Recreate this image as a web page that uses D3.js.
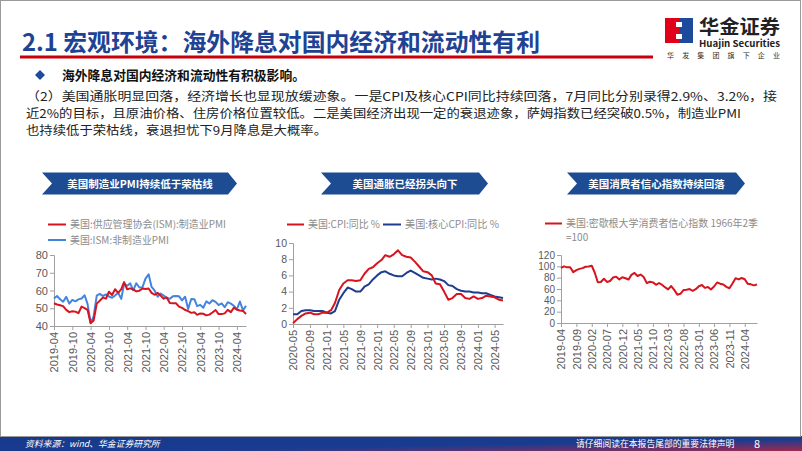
<!DOCTYPE html>
<html><head><meta charset="utf-8">
<script src="https://cdn.jsdelivr.net/npm/d3@7"></script>
<style>
body{margin:0;background:#fff}
svg{display:block}
text{font-family:"Noto Sans CJK SC","Noto Sans",sans-serif}
.ax text{font-family:"Liberation Sans",Arial,sans-serif;fill:#595959}
.ax path,.ax line{stroke:#a0a0a0}
</style>
</head><body>
<svg id="s" width="802" height="451"></svg>
<script>
// ---------------- DATA ----------------
const titleText = "2.1 宏观环境：海外降息对国内经济和流动性有利";
const bulletText = "海外降息对国内经济和流动性有积极影响。";
const paraLines = [
  "（2）美国通胀明显回落，经济增长也显现放缓迹象。一是CPI及核心CPI同比持续回落，7月同比分别录得2.9%、3.2%，接",
  "近2%的目标，且原油价格、住房价格位置较低。二是美国经济出现一定的衰退迹象，萨姆指数已经突破0.5%，制造业PMI",
  "也持续低于荣枯线，衰退担忧下9月降息是大概率。"
];
const bannerTitles = ["美国制造业PMI持续低于荣枯线","美国通胀已经拐头向下","美国消费者信心指数持续回落"];

// Chart 1: ISM PMI, monthly from 2019-04 to 2024-07
const pmiMonths = ["2019-04","2024-07"];
const ismMfg = [52.8,52.1,51.7,51.2,49.1,47.8,48.3,48.1,47.2,
  50.9,50.1,49.1,41.5,43.1,52.6,54.2,56.0,55.4,59.3,57.5,60.7,
  58.7,60.8,64.7,60.7,61.2,60.6,59.5,59.9,61.1,60.8,61.1,58.7,
  57.6,58.6,57.1,55.4,56.1,53.0,52.8,52.8,50.9,50.2,49.0,48.4,
  47.4,47.7,46.3,47.1,46.9,46.0,46.4,47.6,49.0,46.7,46.7,47.1,
  49.1,47.8,50.3,49.2,48.7,48.5,46.8];
const ismSvc = [55.5,56.9,55.1,53.7,56.4,52.6,54.7,53.9,55.0,
  55.5,57.3,52.5,41.8,45.4,57.1,58.1,56.9,57.8,56.6,55.9,57.2,
  58.7,55.3,63.7,62.7,64.0,60.1,64.1,61.7,61.9,66.7,69.1,62.0,
  59.9,56.5,58.3,57.1,55.9,55.3,56.7,56.9,56.7,54.4,56.5,49.6,
  55.2,55.1,51.2,51.9,50.3,53.9,52.7,54.5,53.6,51.8,52.7,50.6,
  53.4,52.6,51.4,49.4,53.8,48.8,51.4];
const pmiLegend = ["美国:供应管理协会(ISM):制造业PMI","美国:ISM:非制造业PMI"];
const pmiYTicks = [40,50,60,70,80];
const pmiXTicks = ["2019-04","2019-10","2020-04","2020-10","2021-04","2021-10","2022-04","2022-10","2023-04","2023-10","2024-04"];

// Chart 2: CPI YoY, monthly from 2020-05 to 2024-07
const cpiMonths = ["2020-05","2024-07"];
const cpiYoY = [0.1,0.6,1.0,1.3,1.4,1.2,1.2,1.4,
  1.4,1.7,2.6,4.2,5.0,5.4,5.4,5.3,5.4,6.2,6.8,7.0,
  7.5,7.9,8.5,8.3,8.6,9.1,8.5,8.3,8.2,7.7,7.1,6.5,
  6.4,6.0,5.0,4.9,4.0,3.0,3.2,3.7,3.7,3.2,3.1,3.4,
  3.1,3.2,3.5,3.4,3.3,3.0,2.9];
const coreCpiYoY = [1.2,1.2,1.6,1.7,1.7,1.6,1.6,1.6,
  1.4,1.3,1.6,3.0,3.8,4.5,4.3,4.0,4.0,4.6,4.9,5.5,
  6.0,6.4,6.5,6.2,6.0,5.9,5.9,6.3,6.6,6.3,6.0,5.7,
  5.6,5.5,5.6,5.5,5.3,4.8,4.7,4.3,4.1,4.0,4.0,3.9,
  3.9,3.8,3.8,3.6,3.4,3.3,3.2];
const cpiLegend = ["美国:CPI:同比 %","美国:核心CPI:同比 %"];
const cpiYTicks = [0,2,4,6,8,10];
const cpiXTicks = ["2020-05","2020-09","2021-01","2021-05","2021-09","2022-01","2022-05","2022-09","2023-01","2023-05","2023-09","2024-01","2024-05"];

// Chart 3: Michigan consumer sentiment, monthly from 2019-04 to 2024-08
const umMonths = ["2019-04","2024-08"];
const umcsi = [97.2,100.0,98.2,98.4,89.8,93.2,95.5,96.8,99.3,
  99.8,101.0,89.1,71.8,72.3,78.1,72.5,74.1,80.4,81.8,76.9,80.7,
  79.0,76.8,84.9,88.3,82.9,85.5,81.2,70.3,72.8,71.7,67.4,70.6,
  67.2,62.8,59.4,65.2,58.4,50.0,51.5,58.2,58.6,59.9,56.8,59.7,
  64.9,67.0,62.0,63.5,59.2,64.4,71.5,69.4,67.9,63.8,61.3,69.7,
  79.0,76.9,79.4,77.2,69.1,68.2,66.4,67.9];
const umLegend = ["美国:密歇根大学消费者信心指数 1966年2季","=100"];
const umYTicks = [0,20,40,60,80,100,120];
const umXTicks = ["2019-04","2019-09","2020-02","2020-07","2020-12","2021-05","2021-10","2022-03","2022-08","2023-01","2023-06","2023-11","2024-04"];

const footLeft = "资料来源：wind、华金证券研究所";
const footRight = "请仔细阅读在本报告尾部的重要法律声明";
const pageNo = "8";

// ---------------- DRAW ----------------
const svg = d3.select("#s");
const parse = d3.timeParse("%Y-%m");
const fmt = d3.timeFormat("%Y-%m");
const defs = svg.append("defs");

const RED = "#d7141e", NAVY = "#1e4394";
const MIXED = "Liberation Sans, Arial, Noto Sans CJK SC, sans-serif";

// title
svg.append("text").attr("x",22).attr("y",51).attr("font-size",24).attr("font-weight",700)
  .attr("fill",NAVY).attr("textLength",518).attr("lengthAdjust","spacingAndGlyphs").text(titleText);
svg.append("rect").attr("x",20).attr("y",55.5).attr("width",633).attr("height",3).attr("fill","#c8000a");

// logo
const lg = svg.append("g");
lg.append("rect").attr("x",665).attr("y",18).attr("width",14).attr("height",25).attr("fill","#e0001b");
lg.append("rect").attr("x",679).attr("y",18).attr("width",14).attr("height",25).attr("fill","#1e4a9c");
lg.append("path").attr("d","M676,22 H682 V27 H679 V34 H682 V39 H676 V34 H679 V27 H676 Z").attr("fill","#fff");
lg.append("text").attr("x",699).attr("y",33.5).attr("font-size",19).attr("font-weight",700).attr("fill","#222")
  .attr("textLength",81).attr("lengthAdjust","spacingAndGlyphs").text("华金证券");
lg.append("text").attr("x",699).attr("y",47).attr("font-size",9).attr("font-weight",700).attr("fill","#222")
  .attr("font-family","Liberation Sans, Arial, sans-serif")
  .attr("textLength",81).attr("lengthAdjust","spacingAndGlyphs").text("Huajin Securities");
lg.append("text").attr("x",667).attr("y",57.5).attr("font-size",7).attr("fill","#333")
  .attr("textLength",113).attr("lengthAdjust","spacing").text("华发集团旗下企业");

// bullet & paragraph
svg.append("path").attr("d","M40,70 L45,75 L40,80 L35,75 Z").attr("fill","#1e4a9c");
svg.append("text").attr("x",62).attr("y",80).attr("font-size",13).attr("font-weight",700).attr("fill","#111")
  .attr("font-family",MIXED)
  .attr("textLength",243).attr("lengthAdjust","spacingAndGlyphs").text(bulletText);
const paraLen = [751,715,301];
paraLines.forEach((t,i)=>{
  svg.append("text").attr("x",26).attr("y",100.5+i*17).attr("font-size",12).attr("fill","#222")
    .attr("font-family",MIXED)
    .attr("textLength",paraLen[i]).attr("lengthAdjust","spacingAndGlyphs").text(t);
});

// banners
const bannerGeo = [[42,52,228,237],[321,331,479,488],[567,577,736,745]];
bannerTitles.forEach((t,i)=>{
  const [l,n,r,tip] = bannerGeo[i], y0=172.5, y1=194.5, ym=(y0+y1)/2;
  svg.append("path").attr("d",`M${l},${y0} H${r} L${tip},${ym} L${r},${y1} H${l} L${n},${ym} Z`).attr("fill","#1d4c93");
  svg.append("text").attr("x",(n+r)/2).attr("y",ym+4).attr("text-anchor","middle").attr("font-size",10.5)
    .attr("font-weight",700).attr("fill","#fff").text(t);
});

// chart function
function chart(o){
  const g = svg.append("g");
  const months = d3.timeMonth.range(parse(o.months[0]), d3.timeMonth.offset(parse(o.months[1]),1));
  const x = d3.scaleTime().domain([months[0], months[months.length-1]]).range([o.x0,o.x1]);
  const y = d3.scaleLinear().domain(d3.extent(o.yTicks)).range([o.yb,o.yt]);
  const ya = g.append("g").attr("class","ax").attr("transform",`translate(${o.x0},0)`)
    .call(d3.axisLeft(y).tickValues(o.yTicks).tickSize(4).tickSizeOuter(4).tickPadding(2));
  ya.selectAll("text").attr("font-size",o.yfs||10.5);
  const xa = g.append("g").attr("class","ax").attr("transform",`translate(0,${o.yb})`)
    .call(d3.axisBottom(x).tickValues(o.xTicks.map(parse)).tickFormat(fmt).tickSize(4).tickSizeOuter(0));
  xa.selectAll("text").attr("font-size",11).attr("transform","rotate(-90)")
    .attr("x",-6).attr("y",0).attr("dy","0.35em").style("text-anchor","end");
  o.series.forEach(s=>{
    const pts = s.data.map((v,i)=>({d:months[i],v}));
    g.append("path").datum(pts).attr("fill","none").attr("stroke",s.color).attr("stroke-width",2)
      .attr("stroke-linejoin","round")
      .attr("d",d3.line().x(p=>x(p.d)).y(p=>y(p.v)));
  });
}

chart({x0:54,x1:246,yt:255,yb:326,months:pmiMonths,yTicks:pmiYTicks,xTicks:pmiXTicks,yfs:11,
  series:[{data:ismSvc,color:"#4385de"},{data:ismMfg,color:RED}]});
chart({x0:293,x1:503,yt:243,yb:324,months:cpiMonths,yTicks:cpiYTicks,xTicks:cpiXTicks,yfs:10.5,
  series:[{data:coreCpiYoY,color:"#1f3d8f"},{data:cpiYoY,color:RED}]});
chart({x0:561,x1:757,yt:255,yb:323,months:umMonths,yTicks:umYTicks,xTicks:umXTicks,yfs:10,
  series:[{data:umcsi,color:RED}]});

// legends
function legItem(x1,x2,y,color,label,tlen){
  svg.append("line").attr("x1",x1).attr("x2",x2).attr("y1",y).attr("y2",y).attr("stroke",color).attr("stroke-width",2);
  const t = svg.append("text").attr("x",x2+4).attr("y",y+3.8).attr("font-size",10).attr("fill","#8c8c8c").text(label);
  if(tlen) t.attr("textLength",tlen).attr("lengthAdjust","spacingAndGlyphs");
}
legItem(48,66,224.5,RED,pmiLegend[0],156);
legItem(48,66,240,"#4385de",pmiLegend[1],99);
legItem(287,304,224.5,RED,cpiLegend[0],72);
legItem(383,401,224.5,"#1f3d8f",cpiLegend[1],94);
legItem(545,562,223.5,RED,umLegend[0],192);
svg.append("text").attr("x",566).attr("y",241).attr("font-size",10).attr("fill","#8c8c8c").text(umLegend[1]);

// footer
const fg = defs.append("linearGradient").attr("id","fg").attr("x1","0").attr("y1","0").attr("x2","1").attr("y2","1");
fg.append("stop").attr("offset","0").attr("stop-color","#17398c");
fg.append("stop").attr("offset","0.6").attr("stop-color","#1a3c90");
fg.append("stop").attr("offset","1").attr("stop-color","#a0284e");
svg.append("rect").attr("x",0).attr("y",436).attr("width",802).attr("height",15).attr("fill","url(#fg)");
svg.append("text").attr("x",25).attr("y",447).attr("font-size",8.8).attr("font-style","italic").attr("fill","#fff")
  .attr("font-family",MIXED).text(footLeft);
svg.append("text").attr("x",576).attr("y",447).attr("font-size",8.8).attr("fill","#fff")
  .attr("font-family",MIXED).text(footRight);
svg.append("text").attr("x",754).attr("y",447.5).attr("font-size",11).attr("fill","#fff")
  .attr("font-family","Liberation Sans, Arial, sans-serif").text(pageNo);

// frame
svg.append("rect").attr("x",0.5).attr("y",0.5).attr("width",800).attr("height",436).attr("fill","none").attr("stroke","#9a9a9a");
</script>
</body></html>
